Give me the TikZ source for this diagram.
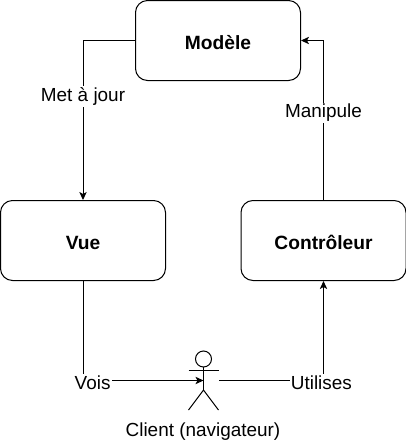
\documentclass[tikz,border=0pt]{standalone}
\usepackage{fontspec}
\setmainfont{Liberation Sans}
\usetikzlibrary{arrows.meta}
\tikzset{
  BoxStyle/.style = {draw, rounded corners = 9pt, minimum width = 123.75pt, minimum height = 60pt, text height = 13.4pt, text depth = 0pt, font = \fontsize{14.4}{16}\selectfont\bfseries},
  EdgeStyle/.style = {draw, -{Stealth[length = 6pt, width = 5.5pt, inset = 1.5pt]}, line width = 0.75pt},
  EdgeLabel/.style = {fill = white, inner sep = 1pt, yshift = -1.5pt, font = \fontsize{14.2}{16}\selectfont}
}
\begin{document}
\begin{tikzpicture}[ x = 0.75pt, y = -0.75pt, line width = 0.75pt ]
    \useasboundingbox (0,0) rectangle (406,440);

    \node[BoxStyle] (modele) at (218,40.5) {Modèle};
    \node[BoxStyle] (vue) at (83,240.5) {Vue};
    \node[BoxStyle] (controleur) at (323.5,240.5) {Contrôleur};
    \node[minimum width = 22.5pt, minimum height = 30pt, inner sep = 0pt] (client) at (203.5,380.5) {};
    \node[font = \fontsize{14.2}{16}\selectfont] (clientlabel) at (203,432) {Client (navigateur)};

    % stick figure
    \begin{scope}[shift = {(client.center)}]
      \draw (0,-21.5) circle (8);
      \draw (0,-13.5) -- (0,9.5);
      \draw (-15,-10) -- (15,-10);
      \draw (-15,29.5) -- (0,9.5) -- (15,29.5);
    \end{scope}

    \path[EdgeStyle] (modele.west) -| node[EdgeLabel, pos = 0.67] {Met à jour} (vue.north);
    \path[EdgeStyle] (vue.south) |- node[EdgeLabel, pos = 0.54] {Vois} (client.center);
    \path[EdgeStyle] (client.east) -| node[EdgeLabel, pos = 0.49] {Utilises} (controleur.south);
    \path[EdgeStyle] (controleur.north) |- node[EdgeLabel, pos = 0.28] {Manipule} (modele.east);

  \end{tikzpicture}
\end{document}
